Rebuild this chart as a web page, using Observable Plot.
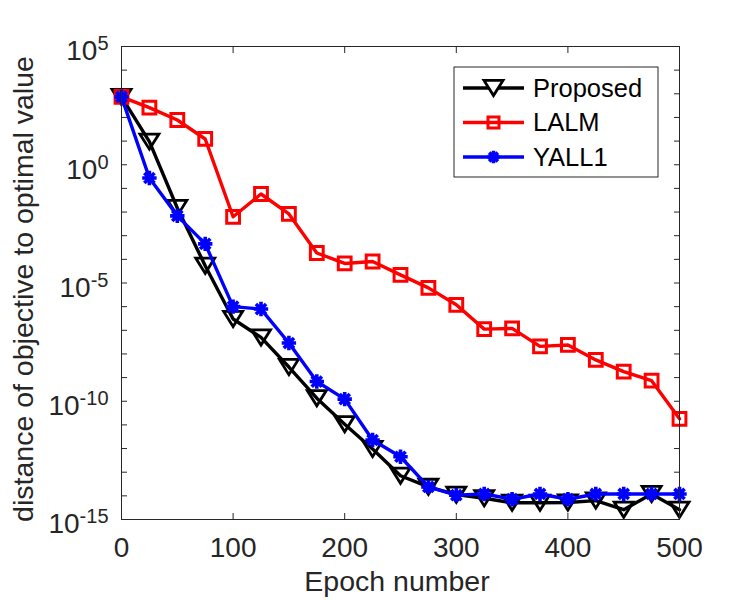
<!DOCTYPE html>
<html>
<head>
<meta charset="utf-8">
<script src="https://cdn.jsdelivr.net/npm/d3@7"></script>
<script src="https://cdn.jsdelivr.net/npm/@observablehq/plot@0.6"></script>
<style>
  body { margin: 0; background: #fff; }
  #chart { width: 750px; height: 600px; }
</style>
</head>
<body>
<div id="chart"></div>
<script>
// Epochs at which each solver was evaluated
const epochs = [0, 25, 50, 75, 100, 125, 150, 175, 200, 225, 250, 275, 300, 325, 350, 375, 400, 425, 450, 475, 500];

// Distance of the objective to the optimal value, per solver
const proposed = [7.4e2, 9.5, 1.48e-2, 5.4e-5, 3.0e-7, 5.0e-8, 2.8e-9, 1.35e-10, 1.07e-11, 9.5e-13, 7.1e-14,
  2.4e-14, 1.12e-14, 7.9e-15, 5.1e-15, 5.1e-15, 5.2e-15, 6.3e-15, 2.6e-15, 1.2e-14, 2.6e-15];
const lalm = [7.4e2, 2.6e2, 78, 12.3, 6.3e-3, 5.8e-2, 8.3e-3, 1.86e-4, 6.7e-5, 8.1e-5, 2.2e-5,
  6.2e-6, 1.2e-6, 1.12e-7, 1.2e-7, 2.1e-8, 2.4e-8, 5.6e-9, 1.8e-9, 7.4e-10, 1.8e-11];
const yall1 = [7.4e2, 0.275, 6.9e-3, 4.5e-4, 1.0e-6, 7.9e-7, 2.9e-8, 6.8e-10, 1.23e-10, 2.3e-12, 4.5e-13,
  2.4e-14, 1.07e-14, 1.2e-14, 7.2e-15, 1.2e-14, 7.2e-15, 1.2e-14, 1.2e-14, 1.2e-14, 1.2e-14];

const seriesNames = ["Proposed", "LALM", "YALL1"];
const seriesColors = ["#000000", "#ff0000", "#0000ff"];

// Axis ticks
const xTicks = [0, 100, 200, 300, 400, 500];
const yTicks = [1e-15, 1e-14, 1e-13, 1e-12, 1e-11, 1e-10, 1e-9, 1e-8, 1e-7, 1e-6, 1e-5,
  1e-4, 1e-3, 1e-2, 1e-1, 1, 1e1, 1e2, 1e3, 1e4, 1e5];
const yLabelTicks = [1e-15, 1e-10, 1e-5, 1, 1e5];
const xLabel = "Epoch number";
const yLabel = "distance of objective to optimal value";

// Marker shapes (size is the area Plot passes in: r*r*PI)
const rOf = size => Math.sqrt(size / Math.PI);
const triangleDown = {
  draw(ctx, size) {
    const r = rOf(size), h = r * 0.8;
    ctx.moveTo(-r, -h); ctx.lineTo(r, -h); ctx.lineTo(0, h); ctx.closePath();
  }
};
const squareMarker = {
  draw(ctx, size) {
    const r = rOf(size);
    ctx.moveTo(-r, -r); ctx.lineTo(r, -r); ctx.lineTo(r, r); ctx.lineTo(-r, r); ctx.closePath();
  }
};
const asterisk = {
  draw(ctx, size) {
    const r = rOf(size), d = r * Math.SQRT1_2;
    ctx.moveTo(-r, 0); ctx.lineTo(r, 0);
    ctx.moveTo(0, -r); ctx.lineTo(0, r);
    ctx.moveTo(-d, -d); ctx.lineTo(d, d);
    ctx.moveTo(-d, d); ctx.lineTo(d, -d);
  }
};
const seriesSymbols = [triangleDown, squareMarker, asterisk];
const seriesRadius = [9.5, 6.4, 7.2];
const seriesMarkerStroke = [2.8, 3, 3.6];

const table = (values, name) => epochs.map((e, i) => ({epoch: e, value: values[i], series: name}));
const series = [table(proposed, "Proposed"), table(lalm, "LALM"), table(yall1, "YALL1")];

const axisColor = "#262626";
const font = "'Liberation Sans', Arial, Helvetica, sans-serif";

const marks = [];
series.forEach((rows, i) => {
  marks.push(Plot.line(rows, {x: "epoch", y: "value", stroke: seriesColors[i], strokeWidth: 3.4, strokeLinejoin: "round"}));
  marks.push(Plot.dot(rows, {x: "epoch", y: "value", symbol: seriesSymbols[i], r: seriesRadius[i],
    stroke: seriesColors[i], strokeWidth: seriesMarkerStroke[i], fill: "none"}));
});

const chart = Plot.plot({
  width: 750,
  height: 600,
  marginLeft: 121,
  marginRight: 71,
  marginTop: 46,
  marginBottom: 81,
  style: {fontFamily: font, fontSize: "28px", color: axisColor, background: "#fff", overflow: "visible"},
  x: {domain: [0, 500]},
  y: {type: "log", domain: [1e-15, 1e5]},
  marks: [
    // inward ticks on all four sides
    Plot.axisX(xTicks, {anchor: "bottom", tickSize: -6, fill: "none", label: null, stroke: axisColor}),
    Plot.axisX(xTicks, {anchor: "top", tickSize: -6, fill: "none", label: null, stroke: axisColor}),
    Plot.axisY(yTicks, {anchor: "left", tickSize: -6, fill: "none", label: null, stroke: axisColor}),
    Plot.axisY(yTicks, {anchor: "right", tickSize: -6, fill: "none", label: null, stroke: axisColor}),
    // tick labels
    Plot.axisX(xTicks, {anchor: "bottom", tickSize: 0, tickPadding: 18, label: null, fill: axisColor, fontSize: 28}),
    Plot.axisY(yLabelTicks, {anchor: "left", tickSize: 0, tickPadding: 13, label: null, fill: axisColor, fontSize: 28,
      tickFormat: d => "10^" + Math.round(Math.log10(d))}),
    ...marks,
    Plot.frame({stroke: axisColor, strokeWidth: 1})
  ]
});

// Powers of ten as "10" with a raised exponent
d3.select(chart).selectAll('g[aria-label="y-axis tick label"] text').each(function () {
  const t = d3.select(this);
  const [base, exp] = t.text().split("^");
  t.text(null);
  t.append("tspan").attr("dy", "5px").text(base);
  t.append("tspan").attr("dy", "-10px").attr("font-size", "20px").text(exp);
});

const svg = d3.select(chart);

// Axis titles
svg.append("text")
  .attr("x", 397).attr("y", 591)
  .attr("text-anchor", "middle")
  .attr("font-family", font).attr("font-size", 28.5).attr("fill", axisColor)
  .text(xLabel);
svg.append("text")
  .attr("transform", "translate(33,289) rotate(-90)")
  .attr("text-anchor", "middle")
  .attr("font-family", font).attr("font-size", 28.5).attr("fill", axisColor)
  .text(yLabel);

// Legend box
const legend = svg.append("g").attr("transform", "translate(454,67)");
legend.append("rect").attr("width", 204).attr("height", 110)
  .attr("fill", "#fff").attr("stroke", axisColor).attr("stroke-width", 1);
const legendRadius = [9.5, 5.5, 6.2];
seriesNames.forEach((name, i) => {
  const y = 21 + i * 34.5;
  legend.append("line").attr("x1", 9).attr("x2", 70).attr("y1", y).attr("y2", y)
    .attr("stroke", seriesColors[i]).attr("stroke-width", 3.4);
  const r = legendRadius[i];
  legend.append("path")
    .attr("transform", `translate(39.5,${y})`)
    .attr("d", d3.symbol(seriesSymbols[i], r * r * Math.PI)())
    .attr("fill", i === 0 ? "#fff" : "none")
    .attr("stroke", seriesColors[i]).attr("stroke-width", seriesMarkerStroke[i]);
  legend.append("text").attr("x", 79).attr("y", y).attr("dy", "0.35em")
    .attr("text-anchor", "start")
    .attr("font-family", font).attr("font-size", 25.5).attr("fill", "#000")
    .text(name);
});

document.getElementById("chart").append(chart);
</script>
</body>
</html>
